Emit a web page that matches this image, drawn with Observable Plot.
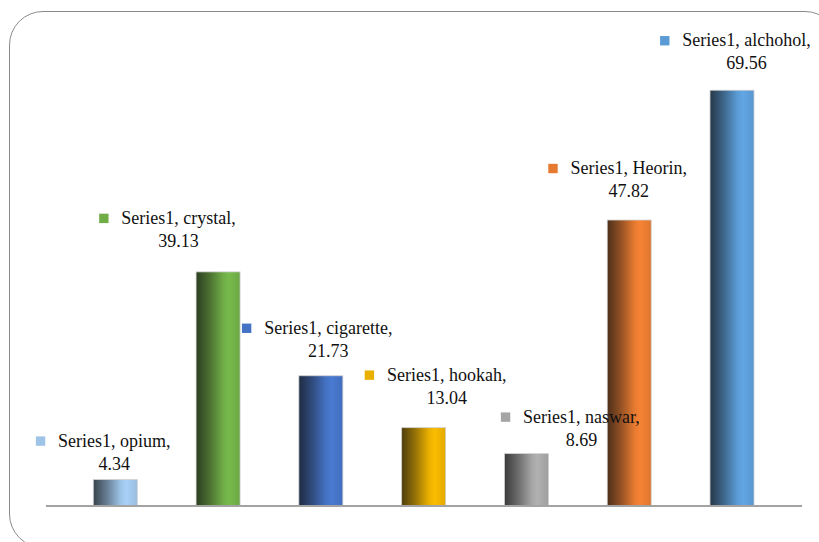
<!DOCTYPE html>
<html><head><meta charset="utf-8">
<script src="https://cdn.jsdelivr.net/npm/d3@7"></script>
<script src="https://cdn.jsdelivr.net/npm/@observablehq/plot@0.6"></script>
<style>
html,body{margin:0;padding:0;background:#fff;overflow:hidden;}
#wrap{position:relative;width:819px;height:542px;overflow:hidden;background:#fff;}
#chart{position:absolute;left:0;top:0;}
#border{position:absolute;left:8.5px;top:11px;width:830px;height:537px;border:1.3px solid #8a8a8a;border-radius:34px;box-sizing:border-box;pointer-events:none;}
</style></head><body>
<div id="wrap"><div id="chart"></div><div id="border"></div></div>
<script>
// ---- data ----
const categories = ["opium","crystal","cigarette","hookah","naswar","Heorin","alchohol"];
const values = [4.34, 39.13, 21.73, 13.04, 8.69, 47.82, 69.56];
const seriesName = "Series1";
const valueLabels = ["4.34","39.13","21.73","13.04","8.69","47.82","69.56"];
// ---- styles ----
const colors = ["#9DC3E6","#70AD47","#4472C4","#EAB000","#A5A5A5","#E67A30","#5B9BD5"];
// manually placed data labels: offset (px) of label centre from bar centre / bar top
const labelDx = [-1.5, -40, 7, 22.5, 54.5, -1, 14];
const labelDy = [-39, -54, -48, -53, -37, -52, -50];

const rows = categories.map((c, i) => ({cat: c, value: values[i], grad: `url(#grad${i})`}));

const fontFamily = "'Liberation Serif', 'Times New Roman', Times, serif";
const fontSize = 18;
const ctx = document.createElement("canvas").getContext("2d");
ctx.font = `${fontSize}px "Liberation Serif", serif`;

const labelMarks = [];
rows.forEach((d, i) => {
  const line1 = `${seriesName}, ${d.cat},`;
  const w = ctx.measureText(line1).width;
  labelMarks.push(
    Plot.text([d], {x: "cat", y: "value", text: () => line1, dx: labelDx[i], dy: labelDy[i],
      fontSize, fontFamily, fill: "#111", lineAnchor: "middle"}),
    Plot.text([d], {x: "cat", y: "value", text: () => valueLabels[i], dx: labelDx[i], dy: labelDy[i] + 23,
      fontSize, fontFamily, fill: "#111", lineAnchor: "middle"}),
    Plot.dot([d], {x: "cat", y: "value", dx: labelDx[i] - w / 2 - 17.5, dy: labelDy[i],
      symbol: "square", r: 5.3, fill: colors[i], stroke: "none"})
  );
});

const chart = Plot.plot({
  width: 819,
  height: 542,
  marginLeft: 46,
  marginRight: 17,
  marginTop: 20,
  marginBottom: 36,
  style: {fontFamily, fontSize: fontSize + "px", background: "transparent"},
  x: {domain: categories, range: [34.5, 812.8], padding: 0.572, round: false, axis: null},
  y: {domain: [0, 70], range: [505.5, 505.5 - 70 * 5.97], axis: null},
  color: {type: "identity"},
  marks: [
    Plot.barY(rows, {x: "cat", y: "value", fill: "grad", stroke: "#d0d0d0", strokeWidth: 0.8}),
    Plot.ruleY([0], {stroke: "#a3a3a3", strokeWidth: 2}),
    ...labelMarks
  ]
});

// gradient definitions for the cylinder-like shading of the bars
const svg = d3.select(chart);
const defs = svg.insert("defs", ":first-child");
colors.forEach((c, i) => {
  const base = d3.rgb(c);
  const g = defs.append("linearGradient").attr("id", `grad${i}`)
    .attr("x1", "0").attr("x2", "1").attr("y1", "0").attr("y2", "0");
  const mix = (k) => d3.interpolateRgb("#111", base)(k);
  g.append("stop").attr("offset", "0%").attr("stop-color", mix(0.28));
  g.append("stop").attr("offset", "30%").attr("stop-color", mix(0.6));
  g.append("stop").attr("offset", "62%").attr("stop-color", base.formatHex());
  g.append("stop").attr("offset", "75%").attr("stop-color", base.brighter(0.2).formatHex());
  g.append("stop").attr("offset", "100%").attr("stop-color", base.darker(0.1).formatHex());
});

document.getElementById("chart").append(chart);
</script>
</body></html>
